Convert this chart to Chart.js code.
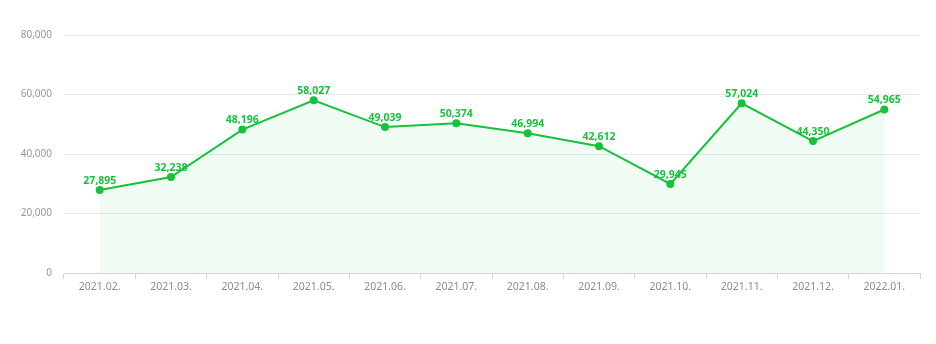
<!DOCTYPE html>
<html>
<head>
<meta charset="utf-8">
<script src="https://cdn.jsdelivr.net/npm/chart.js@4"></script>
<style>
  html, body { margin: 0; padding: 0; background: #fff; }
  #wrap { width: 936px; height: 344px; }
</style>
</head>
<body>
<div id="wrap"><canvas id="salesChart"></canvas></div>
<script>
const months = ["2021.02.", "2021.03.", "2021.04.", "2021.05.", "2021.06.", "2021.07.",
  "2021.08.", "2021.09.", "2021.10.", "2021.11.", "2021.12.", "2022.01."];
const values = [27895, 32238, 48196, 58027, 49039, 50374, 46994, 42612, 29945, 57024, 44350, 54965];
const yTicks = [0, 20000, 40000, 60000, 80000];

const green = "#17c23b";

// draws the value above each point
const valueLabels = {
  id: "valueLabels",
  afterDatasetsDraw(chart) {
    const ctx = chart.ctx;
    const meta = chart.getDatasetMeta(0);
    ctx.save();
    ctx.font = "bold 10.5px 'Noto Sans', sans-serif";
    ctx.fillStyle = green;
    ctx.textAlign = "center";
    ctx.textBaseline = "bottom";
    meta.data.forEach((pt, i) => {
      ctx.fillText(values[i].toLocaleString("en-US"), pt.x, pt.y - 4);
    });
    ctx.restore();
  }
};

new Chart(document.getElementById("salesChart"), {
  type: "line",
  data: {
    labels: months,
    datasets: [{
      data: values,
      borderColor: green,
      borderWidth: 2,
      backgroundColor: "rgba(60, 220, 90, 0.075)",
      fill: "origin",
      tension: 0,
      pointRadius: 4,
      pointBackgroundColor: green,
      pointBorderColor: green,
      pointBorderWidth: 0
    }]
  },
  options: {
    responsive: true,
    maintainAspectRatio: false,
    animation: false,
    layout: { padding: { top: 35, right: 16, bottom: 41, left: 0 } },
    plugins: { legend: { display: false }, tooltip: { enabled: false } },
    scales: {
      x: {
        offset: true,
        grid: { offset: true, drawOnChartArea: false, drawTicks: true, tickLength: 6, color: "#cdd5e6" },
        border: { color: "#cdd5e6" },
        ticks: { color: "#8c8c8c", font: { size: 10.5, family: "'Noto Sans', sans-serif" }, padding: 2 },
        afterFit(scale) { scale.height = 30; }
      },
      y: {
        min: 0,
        max: 80000,
        afterBuildTicks(scale) { scale.ticks = yTicks.map(v => ({ value: v })); },
        grid: { color: "#e9e9ec", drawTicks: false },
        border: { display: false },
        ticks: {
          color: "#999",
          padding: 12,
          font: { size: 10, family: "'Noto Sans', sans-serif" },
          callback: v => v.toLocaleString("en-US")
        },
        afterFit(scale) { scale.width = 64; }
      }
    }
  },
  plugins: [valueLabels]
});
</script>
</body>
</html>
